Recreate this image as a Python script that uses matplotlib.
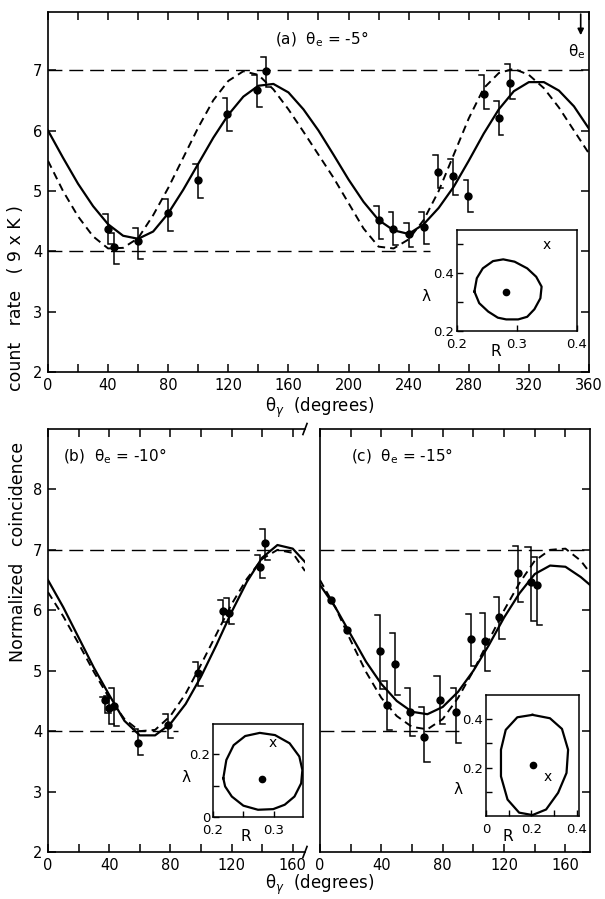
import matplotlib
matplotlib.use("Agg")
import matplotlib.pyplot as plt

plt.rcParams["font.family"] = ["DejaVu Sans"]
plt.rcParams["font.size"] = 10

# ── data ──────────────────────────────────────────────────────────────────────

# (a) theta_e = -5 deg
th_a = [40, 44, 60, 80, 100, 119.4, 138.9, 144.8, 220, 229.8, 240, 250.3,
        259.5, 269.5, 279.8, 290, 299.8, 307.5]
v_a = [4.37, 4.08, 4.17, 4.63, 5.18, 6.27, 6.67, 6.98, 4.52, 4.37, 4.29, 4.40,
       5.31, 5.25, 4.92, 6.60, 6.20, 6.79]
lo_a = [4.12, 3.80, 3.87, 4.34, 4.89, 6.00, 6.39, 6.72, 4.21, 4.10, 4.08, 4.13,
        5.05, 4.94, 4.65, 6.35, 5.92, 6.52]
hi_a = [4.62, 4.30, 4.39, 4.87, 5.44, 6.53, 6.92, 7.22, 4.76, 4.65, 4.47, 4.66,
        5.60, 5.53, 5.19, 6.91, 6.49, 7.10]

curve_th_a = [0, 10, 20, 30, 40, 50, 60, 70, 80, 90, 100, 110, 120, 130, 140,
              150, 160, 170, 180, 190, 200, 210, 220, 230, 240, 250, 260, 270,
              280, 290, 300, 310, 320, 330, 340, 350, 360]
solid_a = [6.00, 5.55, 5.12, 4.75, 4.45, 4.26, 4.21, 4.33, 4.63, 5.02, 5.45,
           5.88, 6.26, 6.56, 6.74, 6.77, 6.63, 6.35, 6.00, 5.60, 5.19, 4.82,
           4.52, 4.35, 4.29, 4.45, 4.72, 5.07, 5.50, 5.95, 6.35, 6.65, 6.80,
           6.80, 6.66, 6.40, 6.03]
dashed_a = [5.50, 5.00, 4.58, 4.25, 4.05, 4.06, 4.22, 4.60, 5.05, 5.55, 6.05,
            6.50, 6.82, 6.98, 6.92, 6.68, 6.35, 5.98, 5.60, 5.22, 4.80, 4.38,
            4.08, 4.05, 4.20, 4.52, 5.00, 5.60, 6.20, 6.70, 6.95, 7.02, 6.92,
            6.70, 6.38, 6.00, 5.62]

# (b) theta_e = -10 deg
th_b = [37.5, 39.7, 43, 59, 78.5, 98.2, 114.7, 118.5, 138.5, 141.8]
v_b = [4.51, 4.39, 4.42, 3.81, 4.10, 4.96, 5.98, 5.96, 6.72, 7.11]
lo_b = [4.30, 4.12, 4.08, 3.60, 3.89, 4.75, 5.81, 5.78, 6.53, 6.83]
hi_b = [4.56, 4.58, 4.72, 4.03, 4.28, 5.14, 6.17, 6.20, 6.92, 7.34]

curve_th_b = [0, 10, 20, 30, 40, 50, 60, 70, 80, 90, 100, 110, 120, 130, 140,
              150, 160, 168]
solid_b = [6.50, 6.05, 5.55, 5.05, 4.60, 4.17, 3.93, 3.93, 4.12, 4.45, 4.90,
           5.42, 5.97, 6.47, 6.87, 7.08, 7.02, 6.80]
dashed_b = [6.30, 5.90, 5.45, 4.98, 4.55, 4.20, 4.00, 4.02, 4.25, 4.62, 5.10,
            5.60, 6.10, 6.52, 6.85, 7.00, 6.95, 6.65]

# (c) theta_e = -15 deg
th_c = [7, 17.5, 39, 43.6, 49, 58.7, 68, 78, 88.7, 98.5, 107.6, 117, 129,
        137.3, 141.6]
v_c = [6.17, 5.67, 5.32, 4.43, 5.11, 4.32, 3.91, 4.51, 4.32, 5.52, 5.49, 5.89,
       6.61, 6.47, 6.42]
lo_c = [6.17, 5.67, 4.70, 4.02, 4.60, 3.92, 3.49, 4.12, 3.81, 5.08, 4.99, 5.53,
        6.14, 5.83, 5.75]
hi_c = [6.17, 5.67, 5.93, 4.83, 5.62, 4.72, 4.40, 4.92, 4.72, 5.94, 5.96, 6.22,
        7.07, 7.04, 6.89]

curve_th_c = [0, 10, 20, 30, 40, 50, 60, 70, 80, 90, 100, 110, 120, 130, 140,
              150, 160, 170, 176]
solid_c = [6.42, 6.05, 5.60, 5.15, 4.78, 4.50, 4.32, 4.28, 4.40, 4.65, 5.00,
           5.42, 5.88, 6.28, 6.60, 6.74, 6.72, 6.55, 6.42]
dashed_c = [6.50, 6.05, 5.50, 4.98, 4.55, 4.25, 4.07, 4.03, 4.20, 4.55, 5.00,
            5.50, 6.00, 6.45, 6.82, 7.00, 7.02, 6.82, 6.62]

# (R, lambda) confidence contours for the insets
cont_a_R = [0.229, 0.233, 0.243, 0.260, 0.277, 0.296, 0.317, 0.332, 0.341,
            0.339, 0.329, 0.317, 0.302, 0.282, 0.268, 0.252, 0.237, 0.229]
cont_a_L = [0.336, 0.382, 0.416, 0.441, 0.447, 0.439, 0.416, 0.387, 0.353,
            0.313, 0.275, 0.249, 0.240, 0.240, 0.246, 0.267, 0.296, 0.336]
best_a = (0.281, 0.333)
cross_a = (0.349, 0.497)

cont_b_R = [0.217, 0.222, 0.234, 0.253, 0.277, 0.302, 0.326, 0.342, 0.347,
            0.345, 0.334, 0.318, 0.299, 0.274, 0.250, 0.231, 0.220, 0.217]
cont_b_L = [0.123, 0.181, 0.228, 0.257, 0.267, 0.260, 0.234, 0.192, 0.149,
            0.107, 0.065, 0.039, 0.025, 0.023, 0.036, 0.065, 0.097, 0.123]
best_b = (0.280, 0.122)
cross_b = (0.299, 0.236)

cont_c_R = [0.205, 0.282, 0.335, 0.362, 0.355, 0.318, 0.265, 0.205, 0.146,
            0.095, 0.066, 0.066, 0.087, 0.138, 0.205]
cont_c_L = [0.418, 0.404, 0.360, 0.274, 0.178, 0.096, 0.027, 0.004, 0.014,
            0.068, 0.164, 0.274, 0.356, 0.408, 0.418]
best_c = (0.208, 0.212)
cross_c = (0.270, 0.163)


# ── helpers ───────────────────────────────────────────────────────────────────

def draw_points(ax, th, v, lo, hi, w):
    for t, l, h in zip(th, lo, hi):
        if h > l:
            ax.plot([t - w, t, t, t + w], [h, h, l, l], color="k", lw=1.1,
                    solid_joinstyle="miter", zorder=3)
    ax.plot(th, v, "o", color="k", ms=5, zorder=4)


def draw_curves(ax, th, solid, dashed):
    ax.plot(th, solid, color="k", lw=1.6, zorder=2)
    ax.plot(th, dashed, color="k", lw=1.4, dashes=(4, 2.6), zorder=2)


def ref_lines(ax, x4, x7):
    ax.plot([0, x4], [4, 4], color="k", lw=1.0, dashes=(10, 5), zorder=1)
    ax.plot([0, x7], [7, 7], color="k", lw=1.0, dashes=(10, 5), zorder=1)


def style_main(ax, xmax, left=True, right=True):
    ax.set_xlim(0, xmax)
    ax.set_xticks(range(0, int(xmax) + 1, 40))
    ax.set_xticks(range(20, int(xmax) + 1, 40), minor=True)
    ax.tick_params(which="both", direction="in", length=6, width=1.1,
                   top=True, bottom=True, left=left, right=right,
                   labelsize=10.5, pad=4)
    for s in ax.spines.values():
        s.set_linewidth(1.2)


def inset(rect, xlim, ylim, xt, xtl, yt, ytl, R, L, best, cross, rlab, llab):
    ax = fig.add_axes(rect)
    ax.plot(R, L, color="k", lw=1.6)
    ax.plot([best[0]], [best[1]], "o", color="k", ms=4.5)
    ax.text(cross[0], cross[1], "x", ha="center", va="center", fontsize=10)
    ax.set_xlim(*xlim)
    ax.set_ylim(*ylim)
    ax.set_xticks(xt)
    ax.set_xticklabels(xtl)
    ax.set_yticks(yt)
    ax.set_yticklabels(ytl)
    ax.tick_params(direction="in", length=4, width=1.0, labelsize=9.5)
    ax.tick_params(axis="x", pad=5)
    ax.tick_params(axis="y", pad=2)
    for s in ax.spines.values():
        s.set_linewidth(1.1)
    ax.text(rlab[0], rlab[1], "R", transform=ax.transAxes, ha="center",
            va="center", fontsize=11)
    ax.text(llab[0], llab[1], "λ", transform=ax.transAxes, ha="center",
            va="center", fontsize=11)
    return ax


fig = plt.figure(figsize=(6.05, 8.99), dpi=100)

# ── (a) ───────────────────────────────────────────────────────────────────────
axA = fig.add_axes([0.0793, 0.5857, 0.8942, 0.401])
ref_lines(axA, 254, 360)
draw_curves(axA, curve_th_a, solid_a, dashed_a)
draw_points(axA, th_a, v_a, lo_a, hi_a, 3.2)
axA.set_ylim(2, 7.96)
axA.set_yticks([2, 3, 4, 5, 6, 7])
style_main(axA, 360)
axA.text(182, 7.5, "(a)  θ$_\\mathregular{e}$ = -5°", ha="center", va="center",
         fontsize=11)
axA.annotate("", xy=(354.5, 7.53), xytext=(354.5, 7.97),
             arrowprops=dict(arrowstyle="-|>", color="k", lw=1.2,
                             mutation_scale=9))
axA.text(352, 7.3, "θ$_\\mathregular{e}$", ha="center", va="center", fontsize=11)

inset([0.7554, 0.6318, 0.1983, 0.1123], (0.2, 0.4), (0.2, 0.548),
      [0.2, 0.3, 0.4], ["0.2", "0.3", "0.4"],
      [0.2, 0.3, 0.4, 0.5], ["0.2", "", "0.4", ""],
      cont_a_R, cont_a_L, best_a, cross_a, (0.32, -0.20), (-0.26, 0.34))

# ── (b) ───────────────────────────────────────────────────────────────────────
axB = fig.add_axes([0.0793, 0.0523, 0.4248, 0.4705])
ref_lines(axB, 85, 168)
draw_curves(axB, curve_th_b, solid_b, dashed_b)
draw_points(axB, th_b, v_b, lo_b, hi_b, 3.4)
axB.set_ylim(2, 9)
axB.set_yticks([2, 3, 4, 5, 6, 7, 8])
style_main(axB, 168, left=True, right=False)
axB.spines["right"].set_visible(False)
for yb in (0.0, 1.0):
    axB.plot([0.992, 1.008], [yb - 0.013, yb + 0.013], transform=axB.transAxes,
             color="k", lw=1.2, clip_on=False)
axB.text(10, 8.55, "(b)  θ$_\\mathregular{e}$ = -10°", ha="left", va="center",
         fontsize=11)

inset([0.352, 0.0912, 0.1488, 0.1034], (0.2, 0.348), (0, 0.295),
      [0.2, 0.25, 0.3], ["0.2", "", "0.3"],
      [0, 0.1, 0.2], ["0", "", "0.2"],
      cont_b_R, cont_b_L, best_b, cross_b, (0.37, -0.21), (-0.30, 0.42))

# ── (c) ───────────────────────────────────────────────────────────────────────
axC = fig.add_axes([0.5289, 0.0523, 0.4463, 0.4705])
ref_lines(axC, 92, 176)
draw_curves(axC, curve_th_c, solid_c, dashed_c)
draw_points(axC, th_c, v_c, lo_c, hi_c, 3.4)
axC.set_ylim(2, 9)
axC.set_yticks([2, 3, 4, 5, 6, 7, 8])
style_main(axC, 176, left=False, right=True)
axC.tick_params(labelleft=False)
axC.text(20, 8.55, "(c)  θ$_\\mathregular{e}$ = -15°", ha="left", va="center",
         fontsize=11)

inset([0.8033, 0.0923, 0.1537, 0.1346], (0, 0.41), (0, 0.5),
      [0, 0.1, 0.2, 0.3, 0.4], ["0", "", "0.2", "", "0.4"],
      [0.1, 0.2, 0.3, 0.4], ["", "0.2", "", "0.4"],
      cont_c_R, cont_c_L, best_c, cross_c, (0.23, -0.17), (-0.30, 0.22))

# ── shared labels ─────────────────────────────────────────────────────────────
fig.text(0.528, 0.546, "θ$_\\gamma$  (degrees)", ha="center", va="center",
         fontsize=12)
fig.text(0.528, 0.016, "θ$_\\gamma$  (degrees)", ha="center", va="center",
         fontsize=12)
fig.text(0.026, 0.668, "count   rate   ( 9 x K )", rotation=90, ha="center",
         va="center", fontsize=12.5)
fig.text(0.030, 0.386, "Normalized   coincidence", rotation=90, ha="center",
         va="center", fontsize=12.5)

fig.savefig("out.png", dpi=100)
